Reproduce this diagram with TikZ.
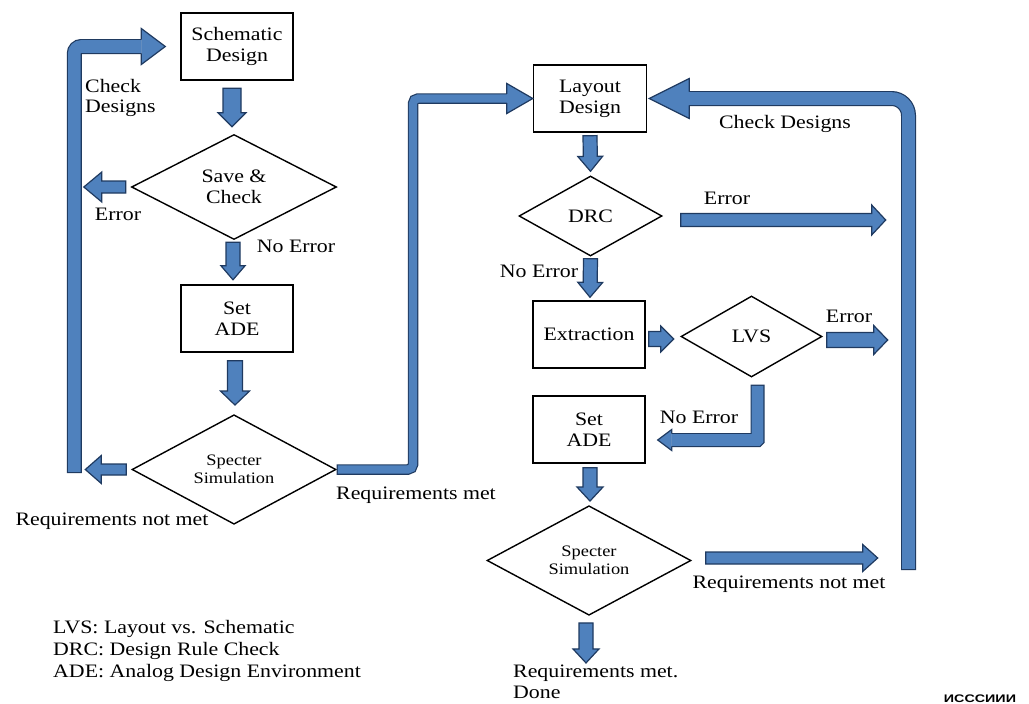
\documentclass[tikz,border=0pt]{standalone}
\usepackage{fontspec}
\setmainfont{Liberation Serif}[FakeStretch=1.15]
\newfontfamily\wmfont{Liberation Sans}[FakeStretch=1.3]
\usetikzlibrary{shapes.geometric,calc}
\definecolor{arrfill}{HTML}{4F81BD}
\definecolor{arrline}{HTML}{1F3A60}
% straight block arrow: start, tip, shaft half, head half, head length
\newcommand\barrow[5]{%
 \filldraw[fill=arrfill,draw=arrline,line width=1.2pt,line join=miter]
  let \p1=#1,\p2=#2,\n1={atan2(\y2-\y1,\x2-\x1)},\n2={veclen(\x2-\x1,\y2-\y1)} in
  [shift={(\x1,\y1)},rotate=\n1]
  (0pt,-#3pt) -- (\n2-#5pt,-#3pt) -- (\n2-#5pt,-#4pt) -- (\n2,0pt)
  -- (\n2-#5pt,#4pt) -- (\n2-#5pt,#3pt) -- (0pt,#3pt) -- cycle;}
% arrow head on a bent shaft: base, tip, shaft width, head half
\newcommand\bhead[4]{%
 \fill[arrfill]
  let \p1=#1,\p2=#2,\n1={atan2(\y2-\y1,\x2-\x1)},\n2={veclen(\x2-\x1,\y2-\y1)} in
  [shift={(\x1,\y1)},rotate=\n1]
  (0pt,-#4pt) -- (\n2,0pt) -- (0pt,#4pt) -- cycle;
 \draw[arrline,line width=1.2pt,line join=miter]
  let \p1=#1,\p2=#2,\n1={atan2(\y2-\y1,\x2-\x1)},\n2={veclen(\x2-\x1,\y2-\y1)} in
  [shift={(\x1,\y1)},rotate=\n1]
  (0pt,#3pt/2-0.6pt) -- (0pt,#4pt) -- (\n2,0pt) -- (0pt,-#4pt) -- (0pt,-#3pt/2+0.6pt);}
% bent shaft: width, corner radius, path
\newcommand\bshaft[3]{%
 \draw[arrline,line width=#1pt,rounded corners=#2pt] #3;
 \draw[arrfill,line width=#1pt-2.4pt,rounded corners=#2pt,shorten <=1.2pt] #3;}
\tikzset{
 boxnode/.style={draw=black,line width=1.4pt,minimum width=112pt,minimum height=67pt,inner sep=0pt,align=center,font=\fontsize{19}{21}\selectfont},
 decnode/.style={diamond,draw=black,line width=1.4pt,inner sep=0pt,align=center,font=\fontsize{19}{21}\selectfont},
 simtext/.style={font=\fontsize{16}{18}\selectfont},
 lbl/.style={inner sep=0pt,align=center,font=\fontsize{19}{21}\selectfont},
}
\begin{document}
\begin{tikzpicture}[x=1pt,y=-1pt]
\useasboundingbox (0,0) rectangle (1029,704);
% nodes
\node[boxnode] (sch) at (237,46.5) {Schematic\\Design};
\node[decnode,minimum width=205pt,minimum height=105pt] (save) at (234,187) {Save \&\\Check};
\node[boxnode] (ade1) at (237,318.5) {Set\\ADE};
\node[decnode,minimum width=204pt,minimum height=105pt,simtext] (sim1) at (234,469.5) {Specter\\Simulation};
\node[boxnode,minimum width=113pt] (lay) at (590,98.5) {Layout\\Design};
\node[decnode,minimum width=143pt,minimum height=80pt] (drc) at (590.5,216) {DRC};
\node[boxnode] (ext) at (589,334.5) {Extraction};
\node[decnode,minimum width=141pt,minimum height=81pt] (lvs) at (751.5,336.5) {LVS};
\node[boxnode] (ade2) at (589,429.5) {Set\\ADE};
\node[decnode,minimum width=204pt,minimum height=105pt,simtext] (sim2) at (589,560.5) {Specter\\Simulation};
% straight block arrows
\barrow{($(sch.south)+(-5,7.5)$)}{($(save.north)+(-2,-7)$)}{9}{14}{14}
\barrow{($(save.south)+(-1,2)$)}{($(ade1.north)+(-4,-4.5)$)}{7}{12}{14}
\barrow{($(ade1.south)+(-2,8)$)}{($(sim1.north)+(1,-9)$)}{7.5}{14.5}{14}
\barrow{($(save.west)+(-5,0)$)}{($(save.west)+(-47,0)$)}{6}{15}{18}
\barrow{($(sim1.west)+(-5,0)$)}{($(sim1.west)+(-46,0)$)}{5.5}{14}{16}
\barrow{($(lay.south)+(0,3)$)}{($(drc.north)+(0,-4)$)}{7}{12.5}{15}
\barrow{($(drc.south)+(0,2)$)}{($(ext.north)+(1,-3)$)}{7}{12.5}{15}
\barrow{($(drc.east)+(18,4)$)}{($(drc.east)+(223,4)$)}{6.5}{15}{14}
\barrow{($(ext.east)+(3,4.5)$)}{($(lvs.west)+(-6.5,2.5)$)}{7.5}{13}{13}
\barrow{($(lvs.east)+(4,3.5)$)}{($(lvs.east)+(65,3.5)$)}{7.5}{14.5}{14}
\barrow{($(ade2.south)+(1,4)$)}{($(sim2.north)+(1,-4)$)}{7}{13}{14}
\barrow{($(sim2.east)+(14,-2.5)$)}{($(sim2.east)+(186,-2.5)$)}{6}{13.5}{15}
\barrow{($(sim2.south)+(-3,7)$)}{($(sim2.south)+(-3,47)$)}{7}{13}{14}
% left feedback loop
\coordinate (lltip) at ($(sch.west)+(-15,0)$);
\coordinate (llb) at ($(lltip)+(-24,0)$);
\coordinate (ll0) at ($(sim1.west)+(-57,3.5)$);
\bshaft{15}{7}{(ll0) -- (ll0 |- llb) -- (llb)}
\bhead{(llb)}{(lltip)}{15}{18}
% requirements met connector
\coordinate (rmx) at (413,300);
\coordinate (rmb) at ($(lay.west)+(-26,0)$);
\bshaft{10.5}{5}{(sim1.east) -- (sim1.east -| rmx) -- (rmx |- rmb) -- (rmb)}
\bhead{(rmb)}{(lay.west)}{10.5}{15}
% right feedback loop
\coordinate (rltip) at ($(lay.east)+(2,0)$);
\coordinate (rlb) at ($(rltip)+(40,0)$);
\coordinate (rl0) at (908.5,570);
\bshaft{15}{17}{(rl0) -- (rl0 |- rlb) -- (rlb)}
\bhead{(rlb)}{(rltip)}{15}{20}
% LVS no error connector
\coordinate (lntip) at ($(ade2.east)+(12,10.5)$);
\coordinate (lnb) at ($(lntip)+(14,0)$);
\coordinate (ln0) at ($(lvs.south)+(6,7)$);
\bshaft{14}{0.1}{(ln0) -- (ln0 |- lnb) -- (lnb)}
\bhead{(lnb)}{(lntip)}{14}{10.5}
% labels
\node[lbl,anchor=west,align=left,font=\fontsize{19}{20}\selectfont] (tcd1) at (85,98) {Check\\Designs};
\node[lbl] (terr1) at (118,214) {Error};
\node[lbl] (tne1) at (296,246) {No Error};
\node[lbl] (trn1) at (112,521) {Requirements not met};
\node[lbl] (trm1) at (416,495) {Requirements met};
\node[lbl] (tcd2) at (785,124) {Check Designs};
\node[lbl] (terr2) at (727,198) {Error};
\node[lbl] (tne2) at (539,271) {No Error};
\node[lbl] (terr3) at (849,316) {Error};
\node[lbl] (tne3) at (699,417) {No Error};
\node[lbl] (trn2) at (789,584) {Requirements not met};
\node[lbl,anchor=west,align=left] (tdone) at (513,681.5) {Requirements met.\\Done};
\node[lbl,anchor=west,align=left,font=\fontsize{19}{22}\selectfont] (legend) at (53,651) {LVS: Layout vs. Schematic\\DRC: Design Rule Check\\ADE: Analog Design Environment};
\node[inner sep=0pt,font=\wmfont\bfseries\fontsize{11}{12}\selectfont] (wm) at (980,699) {ИСССИИИ};
\end{tikzpicture}
\end{document}
